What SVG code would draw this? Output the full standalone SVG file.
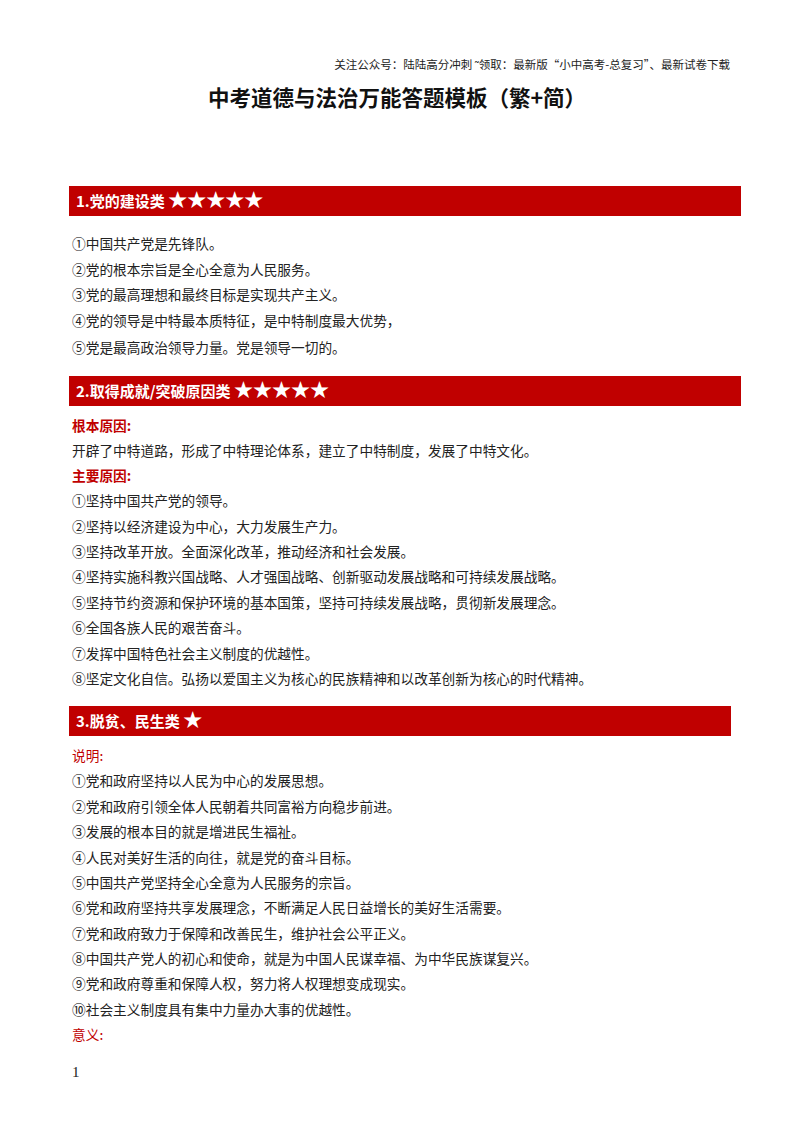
<svg xmlns="http://www.w3.org/2000/svg" width="800" height="1132" viewBox="0 0 800 1132">
<style>
text{font-family:"Noto Sans CJK SC","Liberation Sans",sans-serif;}
.t{font-size:13.7px;fill:#222}
.r{font-size:13.7px;fill:#c00000;font-weight:bold}
.o{font-size:13.7px;fill:#c00000}
.b{font-size:15px;fill:#fff;font-weight:bold}
.s{font-size:19px}
.bar{fill:#c00000}
</style>
<rect width="800" height="1132" fill="#fff"/>
<text x="730" y="69" text-anchor="end" style="font-size:11.5px;fill:#222">关注公众号：陆陆高分冲刺  ˜领取：最新版“小中高考-总复习”、最新试卷下载</text>
<text x="397" y="106" text-anchor="middle" style="font-size:21.5px;font-weight:bold;fill:#111">中考道德与法治万能答题模板（繁+简）</text>
<g id="s1">
<rect class="bar" x="69" y="186" width="672" height="30"/>
<text class="b" x="76" y="207">1.党的建设类 <tspan class="s">★★★★★</tspan></text>
<text class="t" x="72" y="249">①中国共产党是先锋队。</text>
<text class="t" x="72" y="275">②党的根本宗旨是全心全意为人民服务。</text>
<text class="t" x="72" y="300">③党的最高理想和最终目标是实现共产主义。</text>
<text class="t" x="72" y="326">④党的领导是中特最本质特征，是中特制度最大优势，</text>
<text class="t" x="72" y="353">⑤党是最高政治领导力量。党是领导一切的。</text>
</g>
<g id="s2">
<rect class="bar" x="69" y="376" width="672" height="30"/>
<text class="b" x="76" y="397">2.取得成就/突破原因类 <tspan class="s">★★★★★</tspan></text>
<text class="r" x="72" y="431">根本原因:</text>
<text class="t" x="72" y="456">开辟了中特道路，形成了中特理论体系，建立了中特制度，发展了中特文化。</text>
<text class="r" x="72" y="481">主要原因:</text>
<text class="t" x="72" y="506">①坚持中国共产党的领导。</text>
<text class="t" x="72" y="532">②坚持以经济建设为中心，大力发展生产力。</text>
<text class="t" x="72" y="557">③坚持改革开放。全面深化改革，推动经济和社会发展。</text>
<text class="t" x="72" y="582">④坚持实施科教兴国战略、人才强国战略、创新驱动发展战略和可持续发展战略。</text>
<text class="t" x="72" y="608">⑤坚持节约资源和保护环境的基本国策，坚持可持续发展战略，贯彻新发展理念。</text>
<text class="t" x="72" y="633">⑥全国各族人民的艰苦奋斗。</text>
<text class="t" x="72" y="659">⑦发挥中国特色社会主义制度的优越性。</text>
<text class="t" x="72" y="684">⑧坚定文化自信。弘扬以爱国主义为核心的民族精神和以改革创新为核心的时代精神。</text>
</g>
<g id="s3">
<rect class="bar" x="69" y="706" width="662" height="30"/>
<text class="b" x="76" y="727">3.脱贫、民生类 <tspan class="s">★</tspan></text>
<text class="o" x="72" y="761">说明:</text>
<text class="t" x="72" y="786">①党和政府坚持以人民为中心的发展思想。</text>
<text class="t" x="72" y="812">②党和政府引领全体人民朝着共同富裕方向稳步前进。</text>
<text class="t" x="72" y="837">③发展的根本目的就是增进民生福祉。</text>
<text class="t" x="72" y="863">④人民对美好生活的向往，就是党的奋斗目标。</text>
<text class="t" x="72" y="888">⑤中国共产党坚持全心全意为人民服务的宗旨。</text>
<text class="t" x="72" y="913">⑥党和政府坚持共享发展理念，不断满足人民日益增长的美好生活需要。</text>
<text class="t" x="72" y="939">⑦党和政府致力于保障和改善民生，维护社会公平正义。</text>
<text class="t" x="72" y="964">⑧中国共产党人的初心和使命，就是为中国人民谋幸福、为中华民族谋复兴。</text>
<text class="t" x="72" y="989">⑨党和政府尊重和保障人权，努力将人权理想变成现实。</text>
<text class="t" x="72" y="1015">⑩社会主义制度具有集中力量办大事的优越性。</text>
<text class="o" x="72" y="1040">意义:</text>
</g>
<text x="72" y="1077" style="font-family:'Liberation Serif',serif;font-size:15px;fill:#222">1</text>
</svg>
